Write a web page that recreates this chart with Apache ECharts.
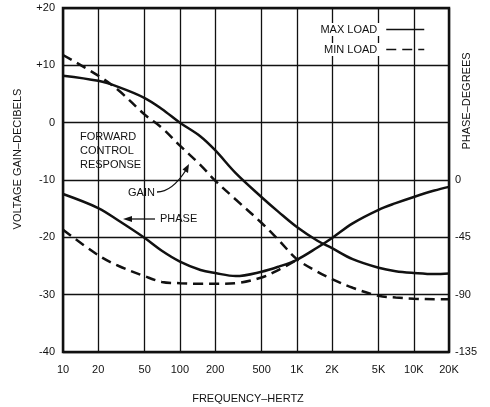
<!DOCTYPE html>
<html>
<head>
<meta charset="utf-8">
<script src="https://cdn.jsdelivr.net/npm/echarts@6/dist/echarts.min.js"></script>
<style>
  html, body { margin: 0; padding: 0; background: #fff; }
  #chart { width: 490px; height: 407px; }
</style>
</head>
<body>
<div id="chart"></div>
<script>
// frequency grid and labels
const freqTicks = [10, 20, 50, 100, 200, 500, 1000, 2000, 5000, 10000, 20000];
const freqTickLabels = ['10', '20', '50', '100', '200', '500', '1K', '2K', '5K', '10K', '20K'];

// gain (dB)
const freq = [10, 20, 30, 50, 70, 100, 150, 200, 300, 500, 700, 1000, 1500, 2000, 3000, 5000, 7000, 10000, 15000, 20000];
const gainMax = [8.2, 7.3, 6.2, 4.3, 2.4, 0, -2.4, -4.8, -8.8, -13, -15.6, -18.2, -20.6, -21.9, -23.8, -25.3, -25.9, -26.2, -26.4, -26.3];
const gainMin = [11.8, 8.2, 5.6, 1.4, -0.9, -4, -7.4, -10.1, -13.4, -17.5, -20.5, -23.8, -26, -27.3, -28.8, -30.2, -30.5, -30.7, -30.8, -30.8];

// phase (degrees)
const phaseMax = [-11, -22, -32, -45.5, -55.5, -64, -70.6, -73, -75.4, -72, -68, -62.6, -53, -45.5, -34, -23.4, -18.2, -13.3, -8.3, -5.4];
const freqPhaseMin = [10, 20, 30, 50, 70, 100, 150, 200, 300, 500, 700, 1000];
const phaseMin = [-39, -59, -67.5, -75.5, -80, -81, -81.5, -81.5, -81, -76.5, -70.5, -62.6];

const font = '"Liberation Sans", Arial, sans-serif';
const ink = '#111';

// x runs on log10(f)
const tickVals = freqTicks.map(f => Math.log10(f));
function pairs(fs, vs) {
	return fs.map((f, i) => [Math.log10(f), vs[i]]);
}

const chart = echarts.init(document.getElementById('chart'));

function lineSeries(name, data, yIndex, dashed) {
	return {
		name: name,
		type: 'line',
		yAxisIndex: yIndex,
		data: data,
		symbol: 'none',
		smooth: 0.35,
		itemStyle: { color: ink },
		lineStyle: {
			color: ink,
			width: 2.5,
			type: dashed ? [10, 6] : 'solid'
		},
		z: 5
	};
}

const option = {
	backgroundColor: '#fff',
	animation: false,
	textStyle: { fontFamily: font },
	grid: {
		left: 63, right: 41, top: 8, bottom: 55,
		show: true,
		borderColor: ink,
		borderWidth: 2.5,
		backgroundColor: 'transparent'
	},
	legend: {
		data: ['MAX LOAD', 'MIN LOAD'],
		orient: 'vertical',
		right: 60,
		top: 18,
		align: 'right',
		itemWidth: 38,
		itemHeight: 10,
		itemGap: 7,
		lineStyle: { width: 1.5 },
		itemStyle: { color: 'rgba(0,0,0,0)', borderColor: 'rgba(0,0,0,0)', borderWidth: 0 },
		textStyle: {
			fontFamily: font, fontSize: 11, color: ink,
			backgroundColor: '#fff', padding: [1, 4, 1, 2]
		}
	},
	xAxis: {
		type: 'value',
		min: 1,
		max: Math.log10(20000),
		axisLine: { show: false },
		axisTick: { show: false, customValues: tickVals },
		splitLine: { show: true, lineStyle: { color: ink, width: 1.3 } },
		axisLabel: {
			customValues: tickVals,
			margin: 12,
			fontSize: 11,
			color: ink,
			fontFamily: font,
			formatter: function(v) {
				const i = tickVals.findIndex(t => Math.abs(t - v) < 1e-6);
				return i >= 0 ? freqTickLabels[i] : '';
			}
		}
	},
	yAxis: [{
		type: 'value',
		min: -40, max: 20, interval: 10,
		axisLine: { show: false },
		axisTick: { show: false },
		splitLine: { show: true, lineStyle: { color: ink, width: 1.3 } },
		axisLabel: {
			margin: 8, fontSize: 11, color: ink, fontFamily: font,
			formatter: v => (v > 0 ? '+' + v : String(v))
		}
	}, {
		type: 'value',
		min: -135, max: 135, interval: 45,
		position: 'right',
		axisLine: { show: false },
		axisTick: { show: false },
		splitLine: { show: false },
		axisLabel: {
			margin: 6, fontSize: 11, color: ink, fontFamily: font,
			formatter: v => (v <= 0 ? String(v) : '')
		}
	}],
	series: [
		lineSeries('MAX LOAD', pairs(freq, gainMax), 0, false),
		lineSeries('MIN LOAD', pairs(freq, gainMin), 0, true),
		lineSeries('MAX LOAD', pairs(freq, phaseMax), 1, false),
		lineSeries('MIN LOAD', pairs(freqPhaseMin, phaseMin), 1, true)
	],
	graphic: [
		// axis titles
		{ type: 'text', x: 18, y: 159, rotation: Math.PI / 2,
			style: { text: 'VOLTAGE GAIN–DECIBELS', font: '11px ' + font, fill: ink, align: 'center', verticalAlign: 'middle' } },
		{ type: 'text', x: 467, y: 101, rotation: Math.PI / 2,
			style: { text: 'PHASE–DEGREES', font: '11px ' + font, fill: ink, align: 'center', verticalAlign: 'middle' } },
		{ type: 'text', x: 248, y: 399,
			style: { text: 'FREQUENCY–HERTZ', font: '11px ' + font, fill: ink, align: 'center', verticalAlign: 'middle' } },
		// annotations
		{ type: 'text', x: 80, y: 137,
			style: { text: 'FORWARD', font: '11px ' + font, fill: ink, verticalAlign: 'middle' } },
		{ type: 'text', x: 80, y: 151,
			style: { text: 'CONTROL', font: '11px ' + font, fill: ink, verticalAlign: 'middle' } },
		{ type: 'text', x: 80, y: 165,
			style: { text: 'RESPONSE', font: '11px ' + font, fill: ink, verticalAlign: 'middle' } },
		{ type: 'text', x: 128, y: 193,
			style: { text: 'GAIN', font: '11px ' + font, fill: ink, verticalAlign: 'middle' } },
		{ type: 'text', x: 160, y: 219,
			style: { text: 'PHASE', font: '11px ' + font, fill: ink, verticalAlign: 'middle' } },
		// gain arrow
		{ type: 'bezierCurve', z: 10,
			shape: { x1: 157, y1: 192, cpx1: 172, cpy1: 192, x2: 186, y2: 170 },
			style: { stroke: ink, lineWidth: 1.3, fill: null } },
		{ type: 'polygon', z: 10,
			shape: { points: [[189, 164], [188, 173], [182.5, 169.5]] },
			style: { fill: ink } },
		// phase arrow
		{ type: 'line', z: 10,
			shape: { x1: 155, y1: 219, x2: 130, y2: 219 },
			style: { stroke: ink, lineWidth: 1.3 } },
		{ type: 'polygon', z: 10,
			shape: { points: [[123, 219], [132, 216], [132, 222]] },
			style: { fill: ink } }
	]
};

chart.setOption(option);
</script>
</body>
</html>
